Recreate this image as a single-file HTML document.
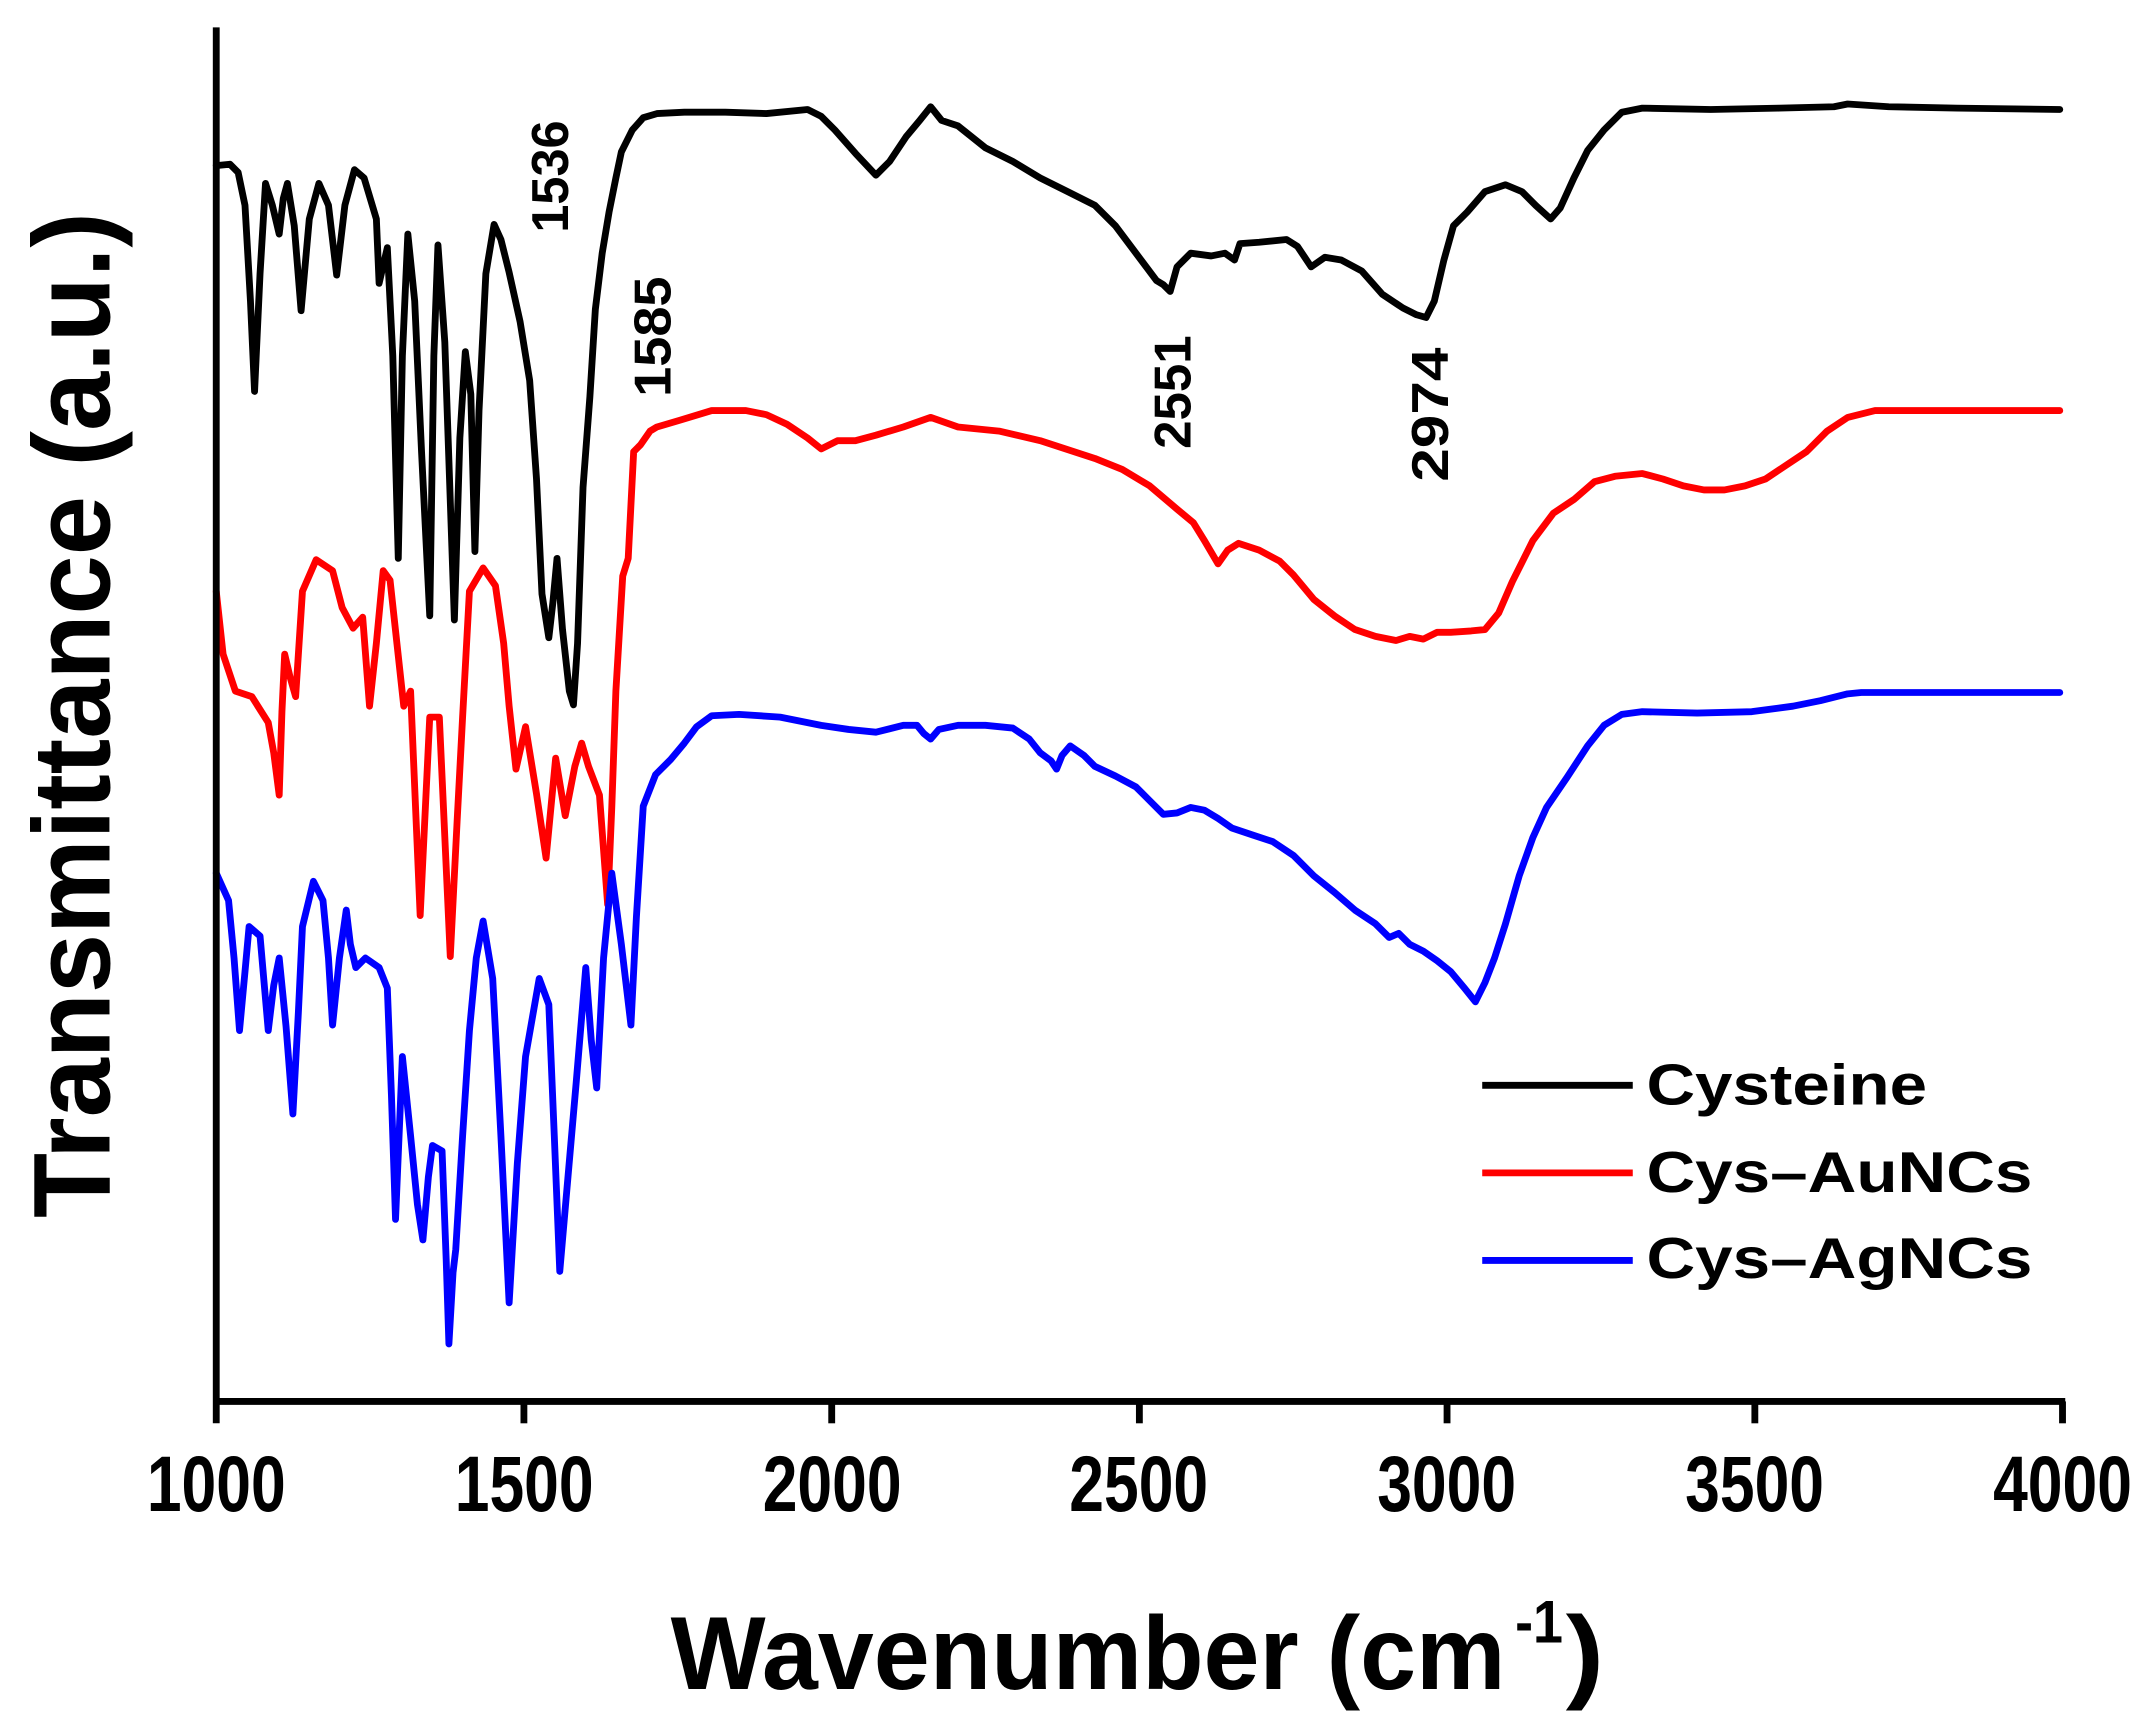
<!DOCTYPE html>
<html><head><meta charset="utf-8"><style>
html,body{margin:0;padding:0;background:#fff;}
svg{display:block;}
text{font-family:"Liberation Sans",Arial,sans-serif;font-weight:bold;fill:#000;}
</style></head><body>
<svg width="2146" height="1717" viewBox="0 0 1568 1254.6" preserveAspectRatio="none" xmlns="http://www.w3.org/2000/svg">
<rect width="1568" height="1254.6" fill="#fff"/>
<g fill="none" stroke-linejoin="round" stroke-linecap="round" stroke-width="5">
<polyline stroke="#000" points="158,121 168,120 174,126 179,150 183,220 186,286 190,200 194,134 199,150 204,171 207,145 210,134 215,165 220,227 226,160 233,134 240,150 246,201 252,150 259,124 266,130 272,150 275,160 277,207 283,181 287,260 291,408 294,260 298,171 303,220 308,330 314,450 317,260 320,179 325,250 332,453 336,320 340,257 344,288 347,403 350,300 355,200 361,164 366,175 372,199 380,235 387,278 392,350 396,434 401,466 404,440 407,408 411,460 416,505 419,515 422,470 426,356 431,290 435,226 440,185 445,155 450,130 454,111 462,95 470,86 480,83 500,82 530,82 560,83 590,80 600,85 610,95 625,112 640,128 650,118 662,100 672,88 680,78 688,88 700,92 720,108 740,118 760,130 780,140 800,150 815,165 830,185 845,205 850,208 855,213 860,195 870,185 885,187 895,185 902,190 906,178 920,177 940,175 948,180 958,195 968,188 980,190 995,198 1010,215 1025,225 1035,230 1042,232 1048,220 1055,190 1062,165 1072,155 1085,140 1100,135 1112,140 1122,150 1133,160 1140,152 1150,130 1160,110 1172,95 1185,82 1200,79 1250,80 1300,79 1340,78 1350,76 1380,78 1430,79 1505,80"/>
<polyline stroke="#f00" points="158,432 163,478 172,505 184,509 196,528 200,550 204,581 206,520 208,478 212,495 216,509 221,432 231,409 243,417 250,444 258,459 265,451 270,516 275,470 280,417 285,424 290,470 295,516 300,505 307,669 314,524 321,524 329,699 334,600 338,524 343,432 353,415 362,428 368,470 372,516 377,562 384,531 392,580 399,627 406,554 413,596 420,560 425,543 430,560 438,581 444,661 447,590 450,505 455,421 459,408 463,330 468,325 475,315 480,312 497,307 520,300 545,300 560,303 575,310 590,320 600,328 612,322 625,322 640,318 660,312 680,305 700,312 730,315 760,322 800,335 820,343 840,355 860,372 872,382 880,395 890,412 897,402 905,397 920,402 935,410 945,420 960,438 975,450 990,460 1005,465 1020,468 1030,465 1040,467 1050,462 1060,462 1075,461 1085,460 1095,448 1105,425 1120,395 1135,375 1150,365 1165,352 1180,348 1200,346 1215,350 1230,355 1245,358 1260,358 1275,355 1290,350 1305,340 1320,330 1335,315 1350,305 1370,300 1420,300 1505,300"/>
<polyline stroke="#00f" points="158,638 167,658 171,700 175,753 179,710 182,677 190,684 196,753 200,720 204,700 209,750 214,814 218,740 221,677 229,644 236,658 240,700 243,749 248,700 253,665 256,690 260,707 267,700 277,707 283,722 286,800 289,891 292,820 294,772 300,830 305,880 309,906 313,860 316,837 323,841 326,920 328,982 331,930 333,913 338,830 343,753 348,700 353,673 360,715 366,830 372,952 378,850 384,772 394,715 401,734 405,830 409,929 415,860 421,791 428,707 432,760 436,795 441,700 447,638 454,690 461,749 465,670 470,589 479,566 490,555 500,543 509,531 520,523 540,522 570,524 600,530 620,533 640,535 660,530 670,530 675,536 680,540 686,533 700,530 720,530 740,532 752,540 760,550 768,556 772,562 776,552 782,545 792,552 800,560 815,567 830,575 840,585 850,595 860,594 870,590 880,592 890,598 900,605 915,610 930,615 945,625 960,640 975,652 990,665 1005,675 1015,685 1022,682 1030,690 1040,695 1050,702 1060,710 1070,722 1078,732 1085,718 1092,700 1100,675 1110,640 1120,612 1130,590 1145,568 1160,545 1172,530 1185,522 1200,520 1240,521 1280,520 1310,516 1330,512 1350,507 1360,506 1400,506 1450,506 1505,506"/>
</g>
<g stroke="#000" stroke-width="5" fill="none">
<line x1="158" y1="20" x2="158" y2="1040"/>
<line x1="156" y1="1024" x2="1509" y2="1024"/>
<line x1="382.8" y1="1024" x2="382.8" y2="1040"/>
<line x1="607.7" y1="1024" x2="607.7" y2="1040"/>
<line x1="832.5" y1="1024" x2="832.5" y2="1040"/>
<line x1="1057.3" y1="1024" x2="1057.3" y2="1040"/>
<line x1="1282.2" y1="1024" x2="1282.2" y2="1040"/>
<line x1="1507" y1="1024" x2="1507" y2="1040"/>
</g>
<g font-size="48" text-anchor="middle">
<text transform="translate(158,1104) scale(0.95,1.2)">1000</text>
<text transform="translate(383,1104) scale(0.95,1.2)">1500</text>
<text transform="translate(608,1104) scale(0.95,1.2)">2000</text>
<text transform="translate(832,1104) scale(0.95,1.2)">2500</text>
<text transform="translate(1057,1104) scale(0.95,1.2)">3000</text>
<text transform="translate(1282,1104) scale(0.95,1.2)">3500</text>
<text transform="translate(1507,1104) scale(0.95,1.2)">4000</text>
</g>
<text x="490" y="1234" font-size="76" textLength="610" lengthAdjust="spacingAndGlyphs">Wavenumber (cm</text>
<text x="1107" y="1200" font-size="44" textLength="35" lengthAdjust="spacingAndGlyphs">-1</text>
<text x="1144" y="1234" font-size="76" textLength="28" lengthAdjust="spacingAndGlyphs">)</text>
<text transform="translate(80,890) rotate(-90)" font-size="80" textLength="735" lengthAdjust="spacingAndGlyphs">Transmittance (a.u.)</text>
<g font-size="38">
<text transform="translate(415,170) rotate(-90)" textLength="82" lengthAdjust="spacingAndGlyphs">1536</text>
<text transform="translate(490,290) rotate(-90)" textLength="88" lengthAdjust="spacingAndGlyphs">1585</text>
<text transform="translate(870,328) rotate(-90)" textLength="83" lengthAdjust="spacingAndGlyphs">2551</text>
<text transform="translate(1058,352) rotate(-90)" textLength="98" lengthAdjust="spacingAndGlyphs">2974</text>
</g>
<g stroke-width="5">
<line x1="1083" y1="793" x2="1193" y2="793" stroke="#000"/>
<line x1="1083" y1="857" x2="1193" y2="857" stroke="#f00"/>
<line x1="1083" y1="921" x2="1193" y2="921" stroke="#00f"/>
</g>
<g font-size="42">
<text x="1203" y="807" textLength="205" lengthAdjust="spacingAndGlyphs">Cysteine</text>
<text x="1203" y="871" textLength="282" lengthAdjust="spacingAndGlyphs">Cys–AuNCs</text>
<text x="1203" y="934" textLength="282" lengthAdjust="spacingAndGlyphs">Cys–AgNCs</text>
</g>
</svg>
</body></html>
